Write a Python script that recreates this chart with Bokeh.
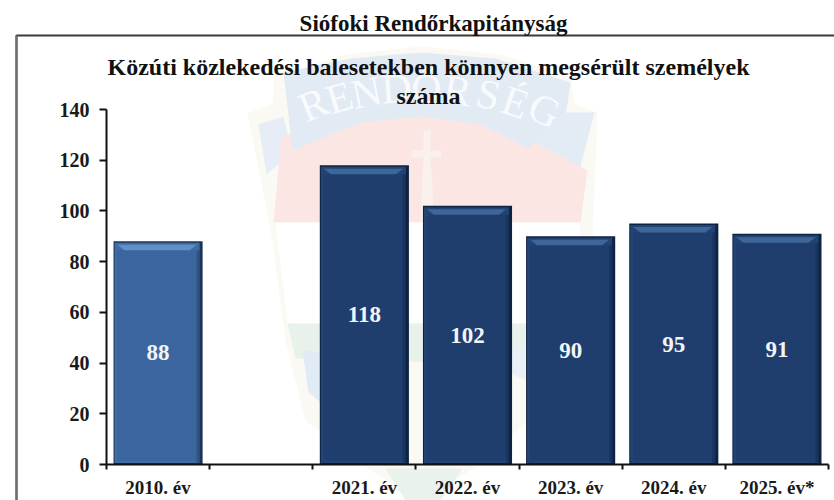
from bokeh.plotting import figure
from bokeh.models import Label, PolyAnnotation, FixedTicker, ColumnDataSource, Range1d
from bokeh.core.properties import value
from bokeh.embed import file_html
from bokeh.resources import INLINE

categories = ["2010. év", "", "2021. év", "2022. év", "2023. év", "2024. év", "2025. év*"]
values = [88, None, 118, 102, 90, 95, 91]
y_ticks = [0, 20, 40, 60, 80, 100, 120, 140]
heading = "Siófoki Rendőrkapitányság"
title_lines = ["Közúti közlekedési balesetekben könnyen megsérült személyek", "száma"]

W, H = 834, 500
FONT = "Liberation Serif"
# plot area in pixels: x 106..828 holds the seven slots, y 464..109 holds 0..140
px_x = 7 / 722
px_y = 140 / 355
p = figure(width=W, height=H, output_backend="svg", toolbar_location=None,
           x_range=Range1d(-0.5 - 106 * px_x, -0.5 + (W - 106) * px_x),
           y_range=Range1d(-(H - 464) * px_y, 464 * px_y),
           min_border_left=0, min_border_right=0, min_border_top=0, min_border_bottom=0)
p.background_fill_color = "white"
p.border_fill_color = "white"
p.outline_line_color = None
p.grid.visible = False

def poly(pts, fill=None, line=None, lw=1.0):
    p.add_layout(PolyAnnotation(xs=[a for a, b in pts], ys=[b for a, b in pts],
                                xs_units="canvas", ys_units="canvas", level="underlay",
                                fill_color=fill, fill_alpha=1.0 if fill else 0,
                                line_color=line, line_alpha=1.0 if line else 0, line_width=lw,
                                editable=False))

# pale crest behind the chart
poly([(247, 113), (272, 103), (274, 76), (345, 54), (420, 46), (500, 54), (570, 76), (574, 103), (597, 112),
      (592, 240), (575, 330), (540, 410), (470, 470), (420, 500), (370, 470), (305, 420), (285, 340), (272, 240)], fill="#fbf9f3")
poly([(258, 124), (283, 116), (292, 153), (266, 174)], fill="#e7edf6")
poly([(524, 112), (594, 112), (577, 177), (528, 150)], fill="#e3ebf5")
poly([(273, 222), (281, 135), (350, 118), (420, 112), (490, 118), (587, 170), (580, 222)], fill="#fce6e4")
poly([(283, 72), (350, 58), (420, 52), (495, 58), (570, 82), (566, 110), (528, 148), (480, 124), (420, 116), (360, 122), (292, 150)], fill="#e2eaf4")
poly([(423, 130), (430, 130), (430, 150), (441, 150), (441, 157), (430, 157), (436, 250), (446, 262), (408, 262), (419, 240), (423, 157), (411, 157), (411, 150), (423, 150)], fill="#faf0ec")
poly([(275, 222), (580, 222), (574, 323), (287, 323)], fill="#ffffff")
poly([(287, 323), (574, 323), (562, 365), (295, 358)], fill="#e8f1ea")
poly([(302, 350), (330, 352), (330, 410), (308, 392)], fill="#e1ebf5")
poly([(500, 345), (552, 345), (535, 385), (505, 370)], fill="#e9f0f6")
poly([(385, 468), (462, 468), (440, 500), (405, 500)], fill="#e9f2eb")
crest = [("R", 313, 104, 22), ("E", 339, 97, 17), ("N", 366, 92, 11), ("D", 396, 88, 4), ("Ő", 426, 88, -3),
         ("R", 457, 90, -9), ("S", 488, 94, -14), ("É", 515, 102, -19), ("G", 544, 110, -24)]
for ch, a, b, ang in crest:
    p.add_layout(Label(x=a, y=b, x_units="canvas", y_units="canvas", text=ch, angle=ang, angle_units="deg",
                       text_font=FONT, text_font_size="42px", text_color="#f8fafc", text_align="center",
                       text_baseline="middle", level="underlay"))

# outer frame
poly([(16, 560), (16, 35), (900, 35), (900, 560)], line="#3a3a3a", lw=2)
poly([(16, 560), (16, 35)], line="#6f6f6f", lw=2)

# bars
half = 0.432
for idx_group, (edge, body, bevel, hi) in [
    ([0], ("#1c3557", "#3a659e", "#3f6ca6", "#6290c6")),
    ([2, 3, 4, 5, 6], ("#0e2341", "#1f3e6e", "#224374", "#3f6698")),
]:
    idx = [i for i in idx_group if values[i] is not None]
    v = [values[i] for i in idx]
    p.vbar(x=idx, top=v, width=2 * half, fill_color=edge, line_color=None)
    p.quad(left=[i - half + 1 * px_x for i in idx], right=[i + half - 3 * px_x for i in idx],
           top=[a - 1.5 * px_y for a in v], bottom=[1.5 * px_y] * len(v), fill_color=bevel, line_color=None)
    p.quad(left=[i - half + 4 * px_x for i in idx], right=[i + half - 6 * px_x for i in idx],
           top=[a - 9 * px_y for a in v], bottom=[4 * px_y] * len(v), fill_color=body, line_color=None)
    p.quad(left=[i + half - 6 * px_x for i in idx], right=[i + half - 3 * px_x for i in idx],
           top=[a - 9 * px_y for a in v], bottom=[2 * px_y] * len(v), fill_color=edge, line_color=None, fill_alpha=0.45)
    p.patches(xs=[[i - half + 4 * px_x, i + half - 6 * px_x, i + half - 13 * px_x, i - half + 11 * px_x] for i in idx],
              ys=[[a - 3.5 * px_y, a - 3.5 * px_y, a - 9 * px_y, a - 9 * px_y] for a in v],
              fill_color=hi, line_color=None)

idx = [i for i, a in enumerate(values) if a is not None]
src = ColumnDataSource(dict(x=idx, y=[values[i] / 2 for i in idx], t=[str(values[i]) for i in idx]))
p.text(x="x", y="y", text="t", source=src, text_color="#f2f5f8", text_font=value(FONT), text_font_style="bold",
       text_font_size="23px", text_align="center", text_baseline="middle")

# axes, fixed at the corner of the plot area
p.yaxis.fixed_location = -0.5
p.yaxis.bounds = (0, 140)
p.yaxis.ticker = FixedTicker(ticks=y_ticks)
p.yaxis.major_tick_in = 0
p.yaxis.major_tick_out = 7
p.yaxis.major_tick_line_width = 2
p.yaxis.major_tick_line_color = "#111111"
p.yaxis.minor_tick_line_color = None
p.yaxis.axis_line_width = 2
p.yaxis.axis_line_color = "#111111"
p.yaxis.major_label_text_font = FONT
p.yaxis.major_label_text_font_style = "bold"
p.yaxis.major_label_text_font_size = "20px"
p.yaxis.major_label_text_color = "#1a1a1a"
p.yaxis.major_label_standoff = 10

centres = list(range(len(categories)))
p.xaxis.fixed_location = 0
p.xaxis.bounds = (-0.5, 6.5)
p.xaxis.ticker = FixedTicker(ticks=centres, minor_ticks=[c - 0.5 for c in centres] + [centres[-1] + 0.5])
p.xaxis.major_label_overrides = {c: t for c, t in zip(centres, categories)}
p.xaxis.major_tick_line_color = None
p.xaxis.minor_tick_in = 0
p.xaxis.minor_tick_out = 5
p.xaxis.minor_tick_line_width = 2
p.xaxis.minor_tick_line_color = "#111111"
p.xaxis.axis_line_width = 2
p.xaxis.axis_line_color = "#111111"
p.xaxis.major_label_text_font = FONT
p.xaxis.major_label_text_font_style = "bold"
p.xaxis.major_label_text_font_size = "19px"
p.xaxis.major_label_text_color = "#1a1a1a"
p.xaxis.major_label_standoff = 6

# titles
for text, a, b, size in [(heading, 433, 23, "23px"), (title_lines[0], 428, 66, "24px"), (title_lines[1], 428, 95, "24px")]:
    p.add_layout(Label(x=a, y=b, x_units="canvas", y_units="canvas", text=text, text_font=FONT,
                       text_font_style="bold", text_font_size=size, text_color="#111111",
                       text_align="center", text_baseline="middle"))

open("out.html", "w").write(file_html(p, INLINE))
